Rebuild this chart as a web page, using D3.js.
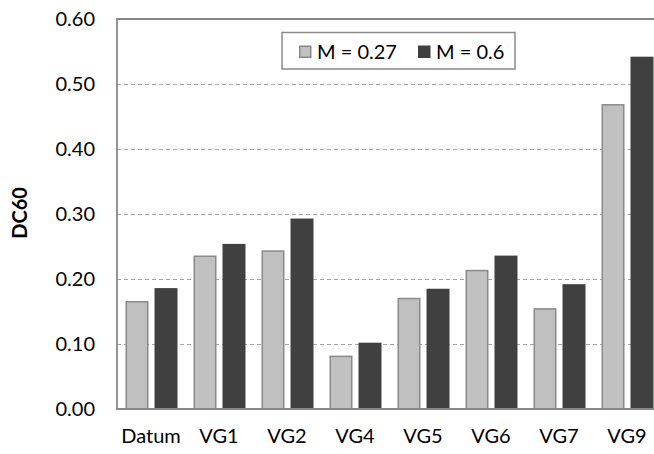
<!DOCTYPE html>
<html>
<head>
<meta charset="utf-8">
<script src="https://cdn.jsdelivr.net/npm/d3@7"></script>
<style>
  body { margin: 0; background: #fff; }
  svg { display: block; font-family: Lato, "Open Sans", sans-serif; }
</style>
</head>
<body>
<svg id="chart" width="654" height="454"></svg>
<script>
// chart data
const categories = ["Datum", "VG1", "VG2", "VG4", "VG5", "VG6", "VG7", "VG9"];
const series = ["M = 0.27", "M = 0.6"];
const m027 = [0.165, 0.235, 0.243, 0.081, 0.170, 0.213, 0.154, 0.468];
const m060 = [0.186, 0.254, 0.293, 0.102, 0.185, 0.236, 0.192, 0.542];
const yTicks = [0, 0.1, 0.2, 0.3, 0.4, 0.5, 0.6];

const svg = d3.select("#chart"),
      width = +svg.attr("width"),
      height = +svg.attr("height");

const plotLeft = 117, plotTop = 19, plotBottom = 409, plotRight = 661;

const fills = ["#c0c0c0", "#404040"];
const strokes = ["#8a8a8a", "none"];

const x = d3.scaleBand()
    .domain(categories)
    .range([plotLeft, plotRight])
    .padding(0);

const x1 = d3.scaleBand()
    .domain(series)
    .range([8.5, 60.5])
    .paddingInner(0.207);

const y = d3.scaleLinear()
    .domain([0, 0.6])
    .range([plotBottom, plotTop]);

// gridlines
svg.append("g")
  .selectAll("line")
  .data(yTicks.filter(d => d > 0 && d < 0.6))
  .enter()
  .append("line")
    .attr("x1", plotLeft)
    .attr("x2", width)
    .attr("y1", d => Math.round(y(d)) + 0.5)
    .attr("y2", d => Math.round(y(d)) + 0.5)
    .attr("stroke", "#a6a6a6")
    .attr("stroke-width", 1)
    .attr("stroke-dasharray", "4,3");

// bars
const rows = categories.map((c, i) => ({cat: c, vals: [m027[i], m060[i]]}));

svg.append("g")
  .selectAll("g")
  .data(rows)
  .enter()
  .append("g")
    .attr("transform", d => "translate(" + x(d.cat) + ",0)")
  .selectAll("rect")
  .data(d => d.vals.map((v, j) => ({s: series[j], v: v, j: j})))
  .enter()
  .append("rect")
    .attr("x", d => x1(d.s) + (d.j === 0 ? 0.75 : 0))
    .attr("width", d => x1.bandwidth() - (d.j === 0 ? 1.5 : 0))
    .attr("y", d => y(d.v))
    .attr("height", d => plotBottom - y(d.v))
    .attr("fill", d => fills[d.j])
    .attr("stroke", d => strokes[d.j])
    .attr("stroke-width", 1.5);

// plot border (top + left + bottom)
svg.append("path")
    .attr("d", "M" + width + "," + plotTop + "H" + plotLeft + "V" + plotBottom + "H" + width)
    .attr("fill", "none")
    .attr("stroke", "#878787")
    .attr("stroke-width", 1.8);

// y axis labels
const yAxis = d3.axisLeft(y)
    .tickValues(yTicks)
    .tickFormat(d3.format(".2f"))
    .tickSize(0)
    .tickPadding(22);

const yg = svg.append("g")
    .attr("transform", "translate(" + plotLeft + ",0)")
    .call(yAxis);
yg.select(".domain").remove();
yg.selectAll("text")
    .attr("font-size", 20)
    .attr("font-family", "Lato, sans-serif")
    .attr("fill", "#000");

// x axis labels
const xAxis = d3.axisBottom(x)
    .tickSize(0)
    .tickPadding(20);

const xg = svg.append("g")
    .attr("transform", "translate(0," + plotBottom + ")")
    .call(xAxis);
xg.select(".domain").remove();
xg.selectAll("text")
    .attr("font-size", 20)
    .attr("font-family", "Lato, sans-serif")
    .attr("fill", "#000");

// y title
svg.append("text")
    .attr("transform", "translate(27,213) rotate(-90)")
    .attr("text-anchor", "middle")
    .attr("font-size", 20)
    .attr("font-weight", "bold")
    .text("DC60");

// legend
const legend = svg.append("g");
legend.append("rect")
    .attr("x", 282)
    .attr("y", 32.5)
    .attr("width", 233)
    .attr("height", 36.5)
    .attr("fill", "#fff")
    .attr("stroke", "#8a8a8a")
    .attr("stroke-width", 1.5);

const legX = [299, 418];
series.forEach((s, j) => {
  legend.append("rect")
      .attr("x", legX[j] + (j === 0 ? 0.75 : 0))
      .attr("y", 45.5 + (j === 0 ? 0.75 : 0))
      .attr("width", 12.5 - (j === 0 ? 1.5 : 0))
      .attr("height", 12.5 - (j === 0 ? 1.5 : 0))
      .attr("fill", fills[j])
      .attr("stroke", strokes[j])
      .attr("stroke-width", 1.5);
  legend.append("text")
      .attr("x", legX[j] + 18)
      .attr("y", 58.5)
      .attr("font-size", 20)
      .text(s);
});
</script>
</body>
</html>
